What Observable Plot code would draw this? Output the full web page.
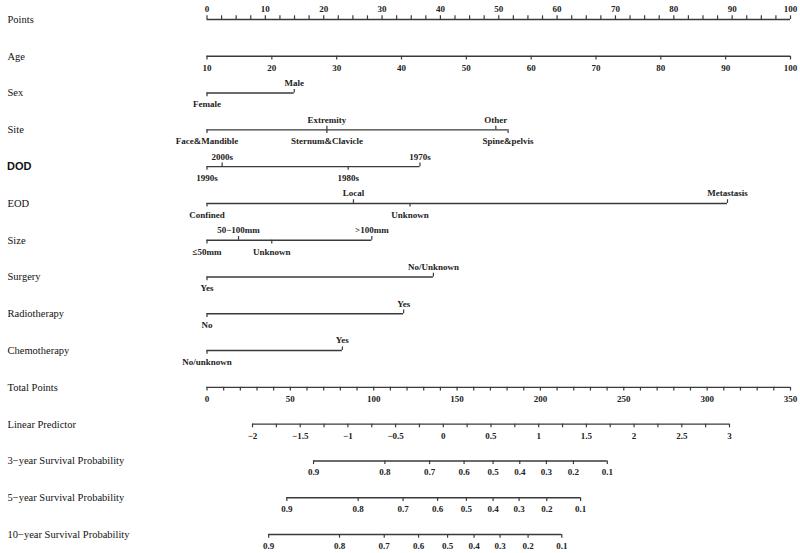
<!DOCTYPE html>
<html><head><meta charset="utf-8">
<script src="https://cdn.jsdelivr.net/npm/d3@7"></script>
<script src="https://cdn.jsdelivr.net/npm/@observablehq/plot@0.6"></script>
<style>body{margin:0;background:#fff}svg{display:block}</style>
</head><body><div id="chart"></div>
<script>
// ---------- data ----------
const rows = ["Points","Age","Sex","Site","DOD","EOD","Size","Surgery","Radiotherapy","Chemotherapy",
  "Total Points","Linear Predictor","3−year Survival Probability","5−year Survival Probability","10−year Survival Probability"];

// Points axis (0-100)
const pointsLabels = [0,10,20,30,40,50,60,70,80,90,100];
const pointsMinorStep = 2.5;

// Age axis: age value -> points
const ageLabels = [10,20,30,40,50,60,70,80,90,100];
const ageRange = [10, 100];

// categorical predictors: level names, label side
const sexLevels = ["Female","Male"];
const sexPoints = [0, 14.95];
const sexSide = ["below","above"];

const siteLevels = ["Face&Mandible","Extremity","Sternum&Clavicle","Other","Spine&pelvis"];
const sitePoints = [0, 20.55, 20.55, 49.5, 51.6];
const siteSide = ["below","above","below","above","below"];

const dodLevels = ["1990s","2000s","1980s","1970s"];
const dodPoints = [0, 2.6, 24.2, 36.5];
const dodSide = ["below","above","below","above"];

const eodLevels = ["Confined","Local","Unknown","Metastasis"];
const eodPoints = [0, 25.1, 34.8, 89.2];
const eodSide = ["below","above","below","above"];

const sizeLevels = ["≤50mm","50−100mm","Unknown",">100mm"];
const sizePoints = [0, 5.4, 11.1, 28.25];
const sizeSide = ["below","above","below","above"];

const surgeryLevels = ["Yes","No/Unknown"];
const surgeryPoints = [0, 38.8];
const surgerySide = ["below","above"];

const radioLevels = ["No","Yes"];
const radioPoints = [0, 33.7];
const radioSide = ["below","above"];

const chemoLevels = ["No/unknown","Yes"];
const chemoPoints = [0, 23.2];
const chemoSide = ["below","above"];

// Total points axis
const totalLabels = [0,50,100,150,200,250,300,350];
const totalMax = 350;
const totalMinorStep = 10;

// Linear predictor axis (mapped on total points)
const lpLabels = [-2,-1.5,-1,-0.5,0,0.5,1,1.5,2,2.5,3];
const lpMinorStep = 0.25;
const lpTotalAtMinus2 = 27.3;
const lpTotalPerUnit = 57.22;

// survival probability axes: probability labels and total points
const probLabels = [0.9,0.8,0.7,0.6,0.5,0.4,0.3,0.2,0.1];
const surv3Total  = [63.9,106.7,133.5,154.2,171.6,187.6,203.6,219.8,240.1];
const surv5Total  = [47.9, 90.7,117.6,138.3,155.6,171.6,187.2,203.8,224.1];
const surv10Total = [37.0, 79.5,106.3,126.9,144.3,160.2,175.8,192.6,212.8];

// ---------- build tables ----------
const rowIndex = new Map(rows.map((r, i) => [r, i]));
const tickLen = 0.1; // in row units
const lines = [], ticks = [], labels = [];
const fmt = v => String(v).replace("-", "−");

function pushTick(row, x, side) {
  const y = rowIndex.get(row);
  ticks.push({x, y1: y, y2: side === "above" ? y - tickLen : y + tickLen});
}
function addCat(row, levels, pts, side) {
  lines.push({y: rowIndex.get(row), x1: d3.min(pts), x2: d3.max(pts)});
  levels.forEach((l, i) => {
    pushTick(row, pts[i], side[i]);
    labels.push({y: rowIndex.get(row), x: pts[i], text: l, side: side[i]});
  });
}
function addCont(row, labelVals, toPts, side, minorVals, labelFmt = fmt) {
  const xs = labelVals.map(toPts);
  lines.push({y: rowIndex.get(row), x1: d3.min(xs), x2: d3.max(xs)});
  (minorVals || labelVals).forEach(v => pushTick(row, toPts(v), side));
  labelVals.forEach(v => labels.push({y: rowIndex.get(row), x: toPts(v), text: labelFmt(v), side}));
}

addCont("Points", pointsLabels, v => v, "above", d3.range(0, 100 + 1e-9, pointsMinorStep));
addCont("Age", ageLabels, v => (v - ageRange[0]) / (ageRange[1] - ageRange[0]) * 100, "below");
addCat("Sex", sexLevels, sexPoints, sexSide);
addCat("Site", siteLevels, sitePoints, siteSide);
addCat("DOD", dodLevels, dodPoints, dodSide);
addCat("EOD", eodLevels, eodPoints, eodSide);
addCat("Size", sizeLevels, sizePoints, sizeSide);
addCat("Surgery", surgeryLevels, surgeryPoints, surgerySide);
addCat("Radiotherapy", radioLevels, radioPoints, radioSide);
addCat("Chemotherapy", chemoLevels, chemoPoints, chemoSide);
addCont("Total Points", totalLabels, v => v / totalMax * 100, "below", d3.range(0, totalMax + 1e-9, totalMinorStep));
const lpToPts = v => (lpTotalAtMinus2 + (v + 2) * lpTotalPerUnit) / totalMax * 100;
addCont("Linear Predictor", lpLabels, lpToPts, "below", d3.range(-2, 3 + 1e-9, lpMinorStep));
[[rows[12], surv3Total], [rows[13], surv5Total], [rows[14], surv10Total]].forEach(([row, tot]) => {
  const m = new Map(probLabels.map((p, i) => [p, tot[i]]));
  addCont(row, probLabels, p => m.get(p) / totalMax * 100, "below", null, p => String(p));
});
const rowLabels = rows.map((r, i) => ({y: i, text: r}));

// ---------- plot ----------
const serif = "'Liberation Serif', 'Times New Roman', serif";
const chart = Plot.plot({
  width: 800, height: 553,
  marginLeft: 206.5, marginRight: 10, marginTop: 19, marginBottom: 19,
  x: {domain: [0, 100], axis: null},
  y: {domain: [0, rows.length - 1], reverse: true, axis: null},
  style: {fontFamily: serif, background: "#fff", color: "#111"},
  marks: [
    Plot.ruleY(lines, {y: "y", x1: "x1", x2: "x2", stroke: "#3a3a3a", strokeWidth: 1.4}),
    Plot.ruleX(ticks, {x: "x", y1: "y1", y2: "y2", stroke: "#3a3a3a", strokeWidth: 1.2}),
    Plot.text(labels.filter(d => d.side === "below"), {x: "x", y: "y", text: "text", dy: 11.5, fontSize: 9, fontWeight: "bold", fill: "#222"}),
    Plot.text(labels.filter(d => d.side === "above"), {x: "x", y: "y", text: "text", dy: -10, fontSize: 9, fontWeight: "bold", fill: "#222"}),
    Plot.text(rowLabels.filter(d => d.text !== "DOD"), {y: "y", text: "text", frameAnchor: "left", dx: -199.5, textAnchor: "start", fontSize: 10.5, fill: "#111"}),
    Plot.text(rowLabels.filter(d => d.text === "DOD"), {y: "y", text: "text", frameAnchor: "left", dx: -200, textAnchor: "start", fontSize: 11, fontWeight: "bold", fontFamily: "'Liberation Sans', Arial, sans-serif", fill: "#111"})
  ]
});
document.getElementById("chart").appendChild(chart);
</script>
</body></html>
